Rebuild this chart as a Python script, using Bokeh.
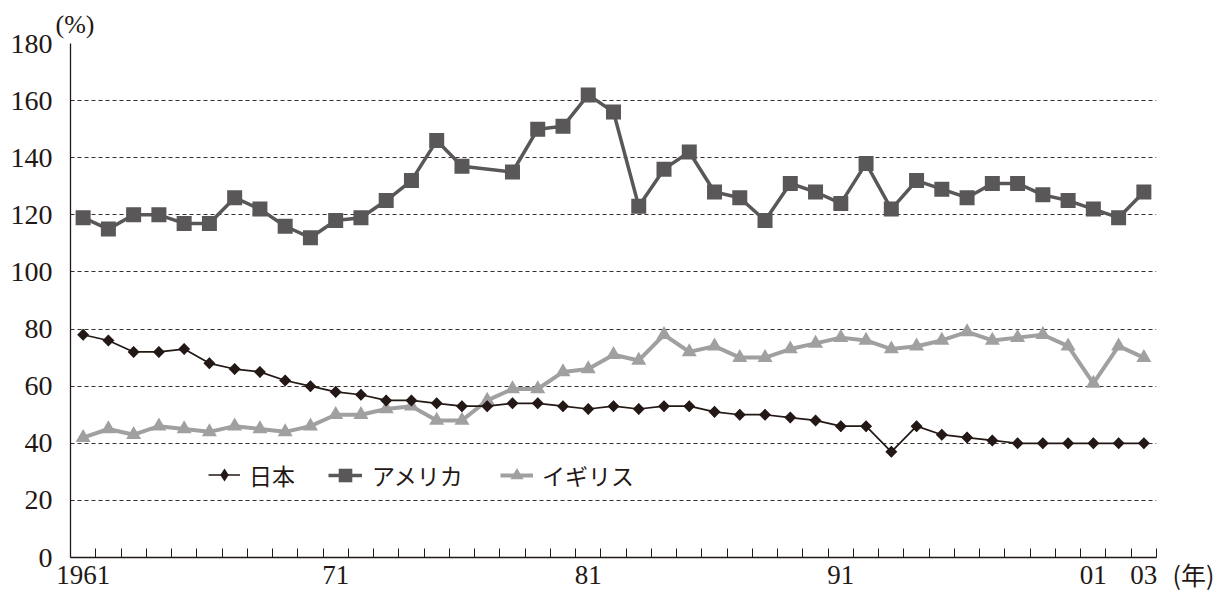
import math
from bokeh.plotting import figure
from bokeh.models import FixedTicker, Legend, LegendItem, LinearAxis, Range1d
from bokeh.embed import file_html
from bokeh.resources import INLINE

# ---------------- data ----------------
years = list(range(1961, 2004))
japan = [78, 76, 72, 72, 73, 68, 66, 65, 62, 60,
         58, 57, 55, 55, 54, 53, 53, 54, 54, 53,
         52, 53, 52, 53, 53, 51, 50, 50, 49, 48,
         46, 46, 37, 46, 43, 42, 41, 40, 40, 40,
         40, 40, 40]
us_years = [y for y in years if y != 1977]   # no 1977 point for the USA
usa = [119, 115, 120, 120, 117, 117, 126, 122, 116, 112,
       118, 119, 125, 132, 146, 137,
       135, 150, 151, 162, 156, 123, 136, 142, 128, 126,
       118, 131, 128, 124, 138, 122, 132, 129, 126, 131,
       131, 127, 125, 122, 119, 128]
uk = [42, 45, 43, 46, 45, 44, 46, 45, 44, 46,
      50, 50, 52, 53, 48, 48, 55, 59, 59, 65,
      66, 71, 69, 78, 72, 74, 70, 70, 73, 75,
      77, 76, 73, 74, 76, 79, 76, 77, 78, 74,
      61, 74, 70]

series_names = ["日本", "アメリカ", "イギリス"]
tick_years = [1961, 1971, 1981, 1991, 2001, 2003]
tick_labels = ["1961", "71", "81", "91", "01", "03"]
y_ticks = list(range(0, 181, 20))
y_unit = "(%)"
x_unit = "(年)"

# ---------------- style ----------------
TEXT = "#231815"
JPC = "#231815"
USC = "#595757"
UKC = "#a0a0a0"
NUM_FONT = "Liberation Serif"
CJK_FONT = "Noto Sans CJK JP"

p = figure(width=1225, height=596, output_backend="svg", toolbar_location=None,
           x_range=Range1d(years[0] - 0.5, years[-1] + 0.5), y_range=Range1d(0, 180),
           min_border_left=70, min_border_right=69, min_border_top=43, min_border_bottom=39)
p.outline_line_color = None
p.background_fill_color = "white"
p.border_fill_color = "white"

# unit of the y axis as a left-aligned title
p.title.text = y_unit
p.title.align = "left"
p.title.offset = -15
p.title.standoff = 10
p.title.text_font = NUM_FONT
p.title.text_font_size = "26px"
p.title.text_font_style = "normal"
p.title.text_color = TEXT

# x axis
minor = [y - 0.5 for y in years] + [years[-1] + 0.5]
p.xaxis.ticker = FixedTicker(ticks=tick_years, minor_ticks=minor)
p.xaxis.major_label_overrides = {t: l for t, l in zip(tick_years, tick_labels)}
p.xaxis.major_tick_in = 0
p.xaxis.major_tick_out = 0
p.xaxis.minor_tick_in = 9
p.xaxis.minor_tick_out = 0
p.xaxis.minor_tick_line_color = TEXT
p.xaxis.minor_tick_line_width = 1
p.xaxis.axis_line_color = TEXT
p.xaxis.axis_line_width = 1.3
p.xaxis.major_label_text_font = NUM_FONT
p.xaxis.major_label_text_font_size = "27px"
p.xaxis.major_label_text_color = TEXT
p.xaxis.major_label_standoff = 8

# y axis
p.yaxis.ticker = FixedTicker(ticks=y_ticks)
p.yaxis.major_tick_in = 0
p.yaxis.major_tick_out = 0
p.yaxis.minor_tick_in = 0
p.yaxis.minor_tick_out = 0
p.yaxis.axis_line_color = TEXT
p.yaxis.axis_line_width = 1.3
p.yaxis.major_label_text_font = NUM_FONT
p.yaxis.major_label_text_font_size = "28px"
p.yaxis.major_label_text_color = TEXT
p.yaxis.major_label_standoff = 18

# unit of the x axis, shown just below/right of the end of the x axis
unit_axis = LinearAxis(ticker=FixedTicker(ticks=[0]), major_label_overrides={0: "\n" + x_unit},
                       axis_line_color=None, major_tick_in=0, major_tick_out=0,
                       minor_tick_in=0, minor_tick_out=0, major_label_standoff=16,
                       major_label_text_font=CJK_FONT, major_label_text_font_size="25px",
                       major_label_text_color=TEXT, major_label_text_line_height=1.4,
                       major_label_orientation="horizontal")
p.add_layout(unit_axis, "right")

p.xgrid.visible = False
p.ygrid.grid_line_color = TEXT
p.ygrid.grid_line_dash = "4 3"
p.ygrid.grid_line_width = 1
p.ygrid.grid_line_alpha = 0.9

# ---------------- series ----------------
uk_line = p.line(years, uk, line_color=UKC, line_width=4)
uk_pts = p.scatter(years, uk, marker="triangle", size=15, fill_color=UKC, line_color=None)
us_line = p.line(us_years, usa, line_color=USC, line_width=3.5)
us_pts = p.scatter(us_years, usa, marker="square", size=15, fill_color=USC, line_color=None)
jp_line = p.line(years, japan, line_color=JPC, line_width=1.7)
# diamond key for the legend (legend samples ignore marker angle); hidden under the points
jp_key = p.scatter(years, japan, marker="diamond", size=11.5, fill_color=JPC, line_color=None)
jp_pts = p.scatter(years, japan, marker="square", angle=math.pi / 4, size=8.5,
                   fill_color=JPC, line_color=None)

# ---------------- legends ----------------
def make_legend(label, renderers, x, gw, gh, standoff):
    h = max(gh, 33)
    leg = Legend(items=[LegendItem(label=label, renderers=renderers)],
                 location=(x, 82 - h / 2), orientation="horizontal",
                 glyph_width=gw, glyph_height=gh, label_standoff=standoff,
                 label_text_font=CJK_FONT, label_text_font_size="23px",
                 label_text_color=TEXT, padding=0, margin=0, spacing=0,
                 border_line_color=None, background_fill_alpha=0)
    p.add_layout(leg)

make_legend(series_names[0], [jp_line, jp_key], 138, 32, 33, 9)
make_legend(series_names[1], [us_line, us_pts], 258, 34, 38, 10)
make_legend(series_names[2], [uk_line, uk_pts], 430, 33, 38, 9)

open("out.html", "w").write(file_html(p, INLINE))
